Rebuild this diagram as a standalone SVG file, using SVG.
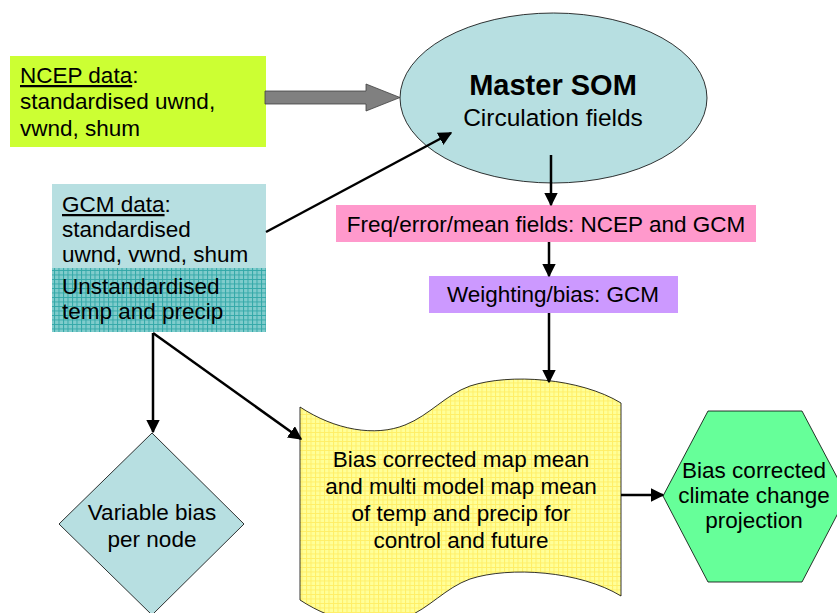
<svg xmlns="http://www.w3.org/2000/svg" width="837" height="613" viewBox="0 0 837 613">
<style>
text{font-family:"Liberation Sans",Arial,sans-serif;fill:#000;font-size:22.5px}
.c{text-anchor:middle}
.conn{stroke:#000;stroke-width:2.5;fill:none;marker-end:url(#ah)}
.thin{stroke:#000;stroke-width:0.8}
</style>
<defs>
<marker id="ah" viewBox="0 0 10 10" refX="9" refY="5" markerWidth="5.5" markerHeight="5.5" orient="auto" markerUnits="strokeWidth">
<path d="M0,0 L10,5 L0,10 z" fill="#000"/>
</marker>
<pattern id="tealgrid" width="4.5" height="4.5" patternUnits="userSpaceOnUse">
<rect width="4.5" height="4.5" fill="#80CCCC"/>
<path d="M0,0.5 H4.5 M0.5,0 V4.5" stroke="#33A8A8" stroke-width="1"/>
</pattern>
<pattern id="yelgrid" width="4.5" height="4.5" patternUnits="userSpaceOnUse">
<rect width="4.5" height="4.5" fill="#FFFF99"/>
<path d="M0,0.5 H4.5 M0.5,0 V4.5" stroke="#FFEE66" stroke-width="1"/>
</pattern>
</defs>
<rect width="837" height="613" fill="#fff"/>

<g id="ncep">
<rect x="10" y="56" width="256" height="91" fill="#CCFF33"/>
<text x="20" y="83"><tspan text-decoration="underline">NCEP data</tspan>:</text>
<text x="20" y="109">standardised uwnd,</text>
<text x="20" y="136">vwnd, shum</text>
</g>

<g id="gcm">
<rect x="52" y="184" width="214" height="84" fill="#B7DFE1"/>
<rect x="52" y="268" width="214" height="64" fill="url(#tealgrid)"/>
<text x="62" y="212"><tspan text-decoration="underline">GCM data</tspan>:</text>
<text x="62" y="237">standardised</text>
<text x="62" y="262">uwnd, vwnd, shum</text>
<text x="62" y="294">Unstandardised</text>
<text x="62" y="319">temp and precip</text>
</g>

<g id="master-som">
<ellipse cx="553.5" cy="98" rx="153.5" ry="85" fill="#B7DFE1" class="thin"/>
<text class="c" x="553" y="95" font-weight="bold" style="font-size:29px">Master SOM</text>
<text class="c" x="553" y="126" style="font-size:24.5px">Circulation fields</text>
</g>

<g id="freq">
<rect x="336" y="205" width="420" height="37" fill="#FF99CC"/>
<text class="c" x="546" y="232">Freq/error/mean fields: NCEP and GCM</text>
</g>

<g id="weighting">
<rect x="429" y="276" width="249" height="37" fill="#CC99FF"/>
<text class="c" x="553" y="302">Weighting/bias: GCM</text>
</g>

<g id="bias-map">
<path d="M300,407 C335,430 375,437 405,425 C430,415 445,395 470,386 C510,373 580,378 621,403 L621,596 C580,571 510,566 470,579 C445,588 430,608 405,618 C375,630 335,623 300,600 Z" fill="url(#yelgrid)" class="thin"/>
<text class="c" x="461" y="467">Bias corrected map mean</text>
<text class="c" x="461" y="494">and multi model map mean</text>
<text class="c" x="461" y="521">of temp and precip for</text>
<text class="c" x="461" y="548">control and future</text>
</g>

<g id="variable-bias">
<polygon points="152,433 244,524 152,615 59,524" fill="#B7DFE1" class="thin"/>
<text class="c" x="152" y="520">Variable bias</text>
<text class="c" x="152" y="547">per node</text>
</g>

<g id="projection">
<polygon points="663,496 708,411 802,411 847,496 802,582 708,582" fill="#66FF99" class="thin"/>
<text class="c" x="754" y="478">Bias corrected</text>
<text class="c" x="754" y="503">climate change</text>
<text class="c" x="754" y="528">projection</text>
</g>

<g id="connectors">
<polygon points="265,91 366,91 366,84 400,97.5 366,111 366,104 265,104" fill="#808080" stroke="#404040" stroke-width="0.8"/>
<line class="conn" x1="266" y1="232" x2="451" y2="133"/>
<line class="conn" x1="551" y1="155" x2="551" y2="205"/>
<line class="conn" x1="549" y1="242" x2="549" y2="276"/>
<line class="conn" x1="549" y1="313" x2="549" y2="382"/>
<line class="conn" x1="153" y1="333" x2="153" y2="432"/>
<line class="conn" x1="153" y1="333" x2="301" y2="439"/>
<line class="conn" x1="621" y1="495" x2="663" y2="495"/>
</g>
</svg>
